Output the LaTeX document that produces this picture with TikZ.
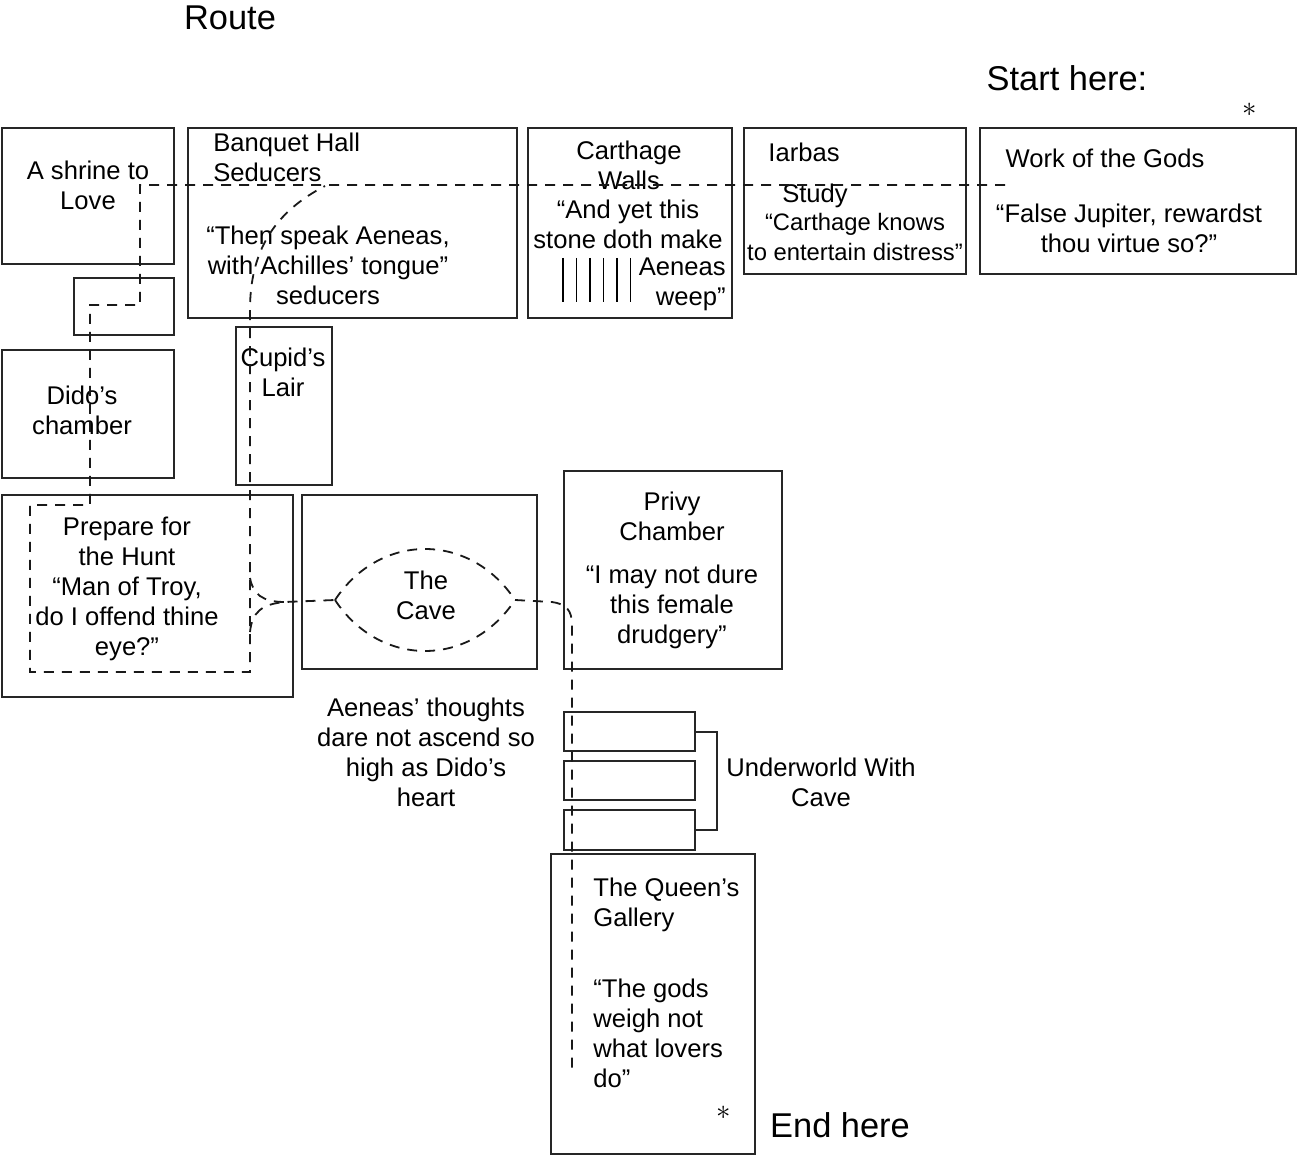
\documentclass[tikz,border=0pt]{standalone}
\usepackage{fontspec}
\setmainfont{Liberation Sans}
\usetikzlibrary{positioning}

\begin{document}
\begin{tikzpicture}[
x=0.5pt, y=-0.5pt,
room/.style={draw=black!85, line width=1pt, anchor=north west, inner sep=0pt},
words/.style={align=center, inner sep=0pt, font=\fontsize{12.8}{15}\selectfont},
leftwords/.style={words, align=left, anchor=west},
big/.style={inner sep=0pt, font=\fontsize{17.2}{20}\selectfont},
star/.style={inner sep=0pt, font=\fontsize{14}{16}\selectfont},
route/.style={draw=black!90, line width=0.9pt, dash pattern=on 5pt off 4pt},
bracket/.style={draw=black!85, line width=1pt}
]
\useasboundingbox (0,0) rectangle (1297,1155);

\node[big] (route) at (230,18) {Route};
\node[big] (start) at (1067,78) {Start here:};
\node[star] (startstar) at (1250,110) {$\ast$};

% top row
\node[room, minimum width=86pt, minimum height=68pt] (shrine) at (1,127) {};
\node[room, minimum width=164.5pt, minimum height=95pt] (banquet) at (187,127) {};
\node[room, minimum width=102pt, minimum height=95pt] (walls) at (527,127) {};
\node[room, minimum width=111pt, minimum height=73pt] (iarbas) at (743,127) {};
\node[room, minimum width=158pt, minimum height=73pt] (gods) at (979,127) {};

\node[words] (shrinetxt) at (88,185) {A shrine to\\Love};
\node[leftwords] (banquettxt) at (213,157) {Banquet Hall\\Seducers};
\node[words] (banquetquote) at (328,265) {“Then speak Aeneas,\\with Achilles’ tongue”\\seducers};
\node[words] (wallstxt) at (629,165) {Carthage\\Walls};
\node[words] (wallsquote) at (628,224) {“And yet this\\stone doth make};
\node[words, align=right, anchor=east] (weep) at (726,284) {Aeneas\\weep”};
\foreach \i in {0,...,5}
  \draw[line width=0.9pt] ({563+13.5*\i},258) -- ++(0,44);
\node[words] (iarbastxt) at (804,152) {Iarbas};
\node[words] (study) at (815,196) {Study};
\node[words, font=\fontsize{11.9}{15}\selectfont] (iarbasquote) at (855,237) {“Carthage knows\\to entertain distress”};
\node[words] (godstxt) at (1105,158) {Work of the Gods};
\node[words] (godsquote) at (1129,228) {“False Jupiter, rewardst\\thou virtue so?”};

% left column
\node[room, minimum width=50pt, minimum height=28.5pt] (passage) at (73,277) {};
\node[room, minimum width=86pt, minimum height=64pt] (dido) at (1,349) {};
\node[room, minimum width=48pt, minimum height=79pt] (cupid) at (235,326) {};
\node[room, minimum width=145.5pt, minimum height=101pt] (hunt) at (1,494) {};
\node[room, minimum width=117.5pt, minimum height=87pt] (cave) at (301,494) {};
\node[room, minimum width=109pt, minimum height=99pt] (privy) at (563,470) {};

\node[words] (didotxt) at (82,410) {Dido’s\\chamber};
\node[words] (cupidtxt) at (283,372) {Cupid’s\\Lair};
\node[words] (hunttxt) at (127,589) {Prepare for\\the Hunt\\“Man of Troy,\\do I offend thine\\eye?”};
\node[words] (cavetxt) at (426,595) {The\\Cave};
\node[words] (privytxt) at (672,516) {Privy\\Chamber};
\node[words] (privyquote) at (672,607) {“I may not dure\\this female\\drudgery”};
\node[words] (thoughts) at (426,752) {Aeneas’ thoughts\\dare not ascend so\\high as Dido’s\\heart};

% underworld
\node[room, minimum width=65.5pt, minimum height=19.5pt] (under1) at (563,711) {};
\node[room, minimum width=65.5pt, minimum height=19.5pt, below=4pt of under1] (under2) {};
\node[room, minimum width=65.5pt, minimum height=20pt, below=4pt of under2] (under3) {};
\draw[bracket] (under1.east) -- ++(21,0) |- (under3.east);
\node[words] (undertxt) at (821,782) {Underworld With\\Cave};

\node[room, minimum width=102pt, minimum height=150pt] (gallery) at (550,853) {};
\node[leftwords] (gallerytxt) at (593,905) {The Queen’s\\Gallery};
\node[leftwords] (galleryquote) at (593,1033) {“The gods\\weigh not\\what lovers\\do”};
\node[star] (endstar) at (724,1113) {$\ast$};
\node[big] (end) at (840,1125) {End here};

% the route
\draw[route] (1005,185) -- (140,185) -- (140,305) -- (90,305) -- (90,505) -- (30,505)
  -- (30,672) -- (250,672) -- (250,310) .. controls (250,250) and (275,212) .. (325,186);
\draw[route] (250,578) .. controls (253,594) and (262,602) .. (285,602);
\draw[route] (250,632) .. controls (252,612) and (262,604) .. (285,602) -- (335,600);
\draw[route] (335,600) .. controls (380,532) and (470,532) .. (515,600);
\draw[route] (335,600) .. controls (380,668) and (470,668) .. (515,600);
\draw[route] (515,600) -- (552,602) .. controls (566,604) and (572,610) .. (572,625) -- (572,1068);
\end{tikzpicture}
\end{document}
